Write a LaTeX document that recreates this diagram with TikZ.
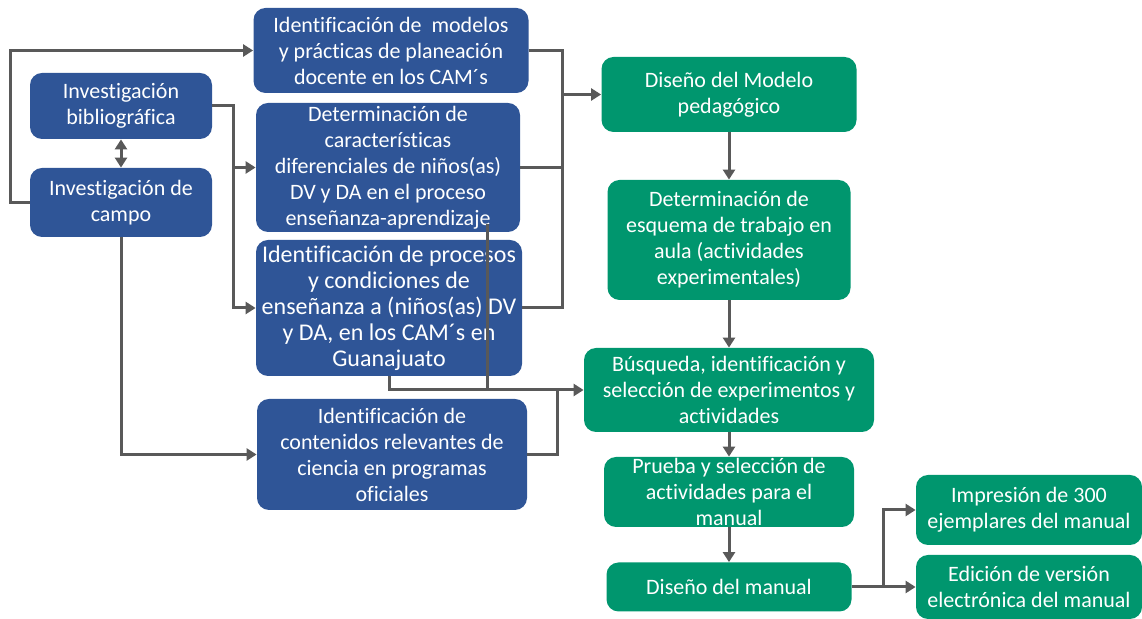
\documentclass[tikz,border=0pt]{standalone}
\usepackage{fontspec}
\setmainfont{Carlito}[Ligatures=CommonOff]
\usetikzlibrary{arrows.meta}
\definecolor{stageA}{HTML}{2F5597}
\definecolor{stageB}{HTML}{00966E}
\definecolor{linkline}{HTML}{595959}
\begin{document}
\begin{tikzpicture}[x=0.5pt,y=-0.5pt,>={Triangle[length=5pt,width=6pt]},font=\fontsize{11}{13}\selectfont,
  blk/.style={fill=#1,text=white,rounded corners=6pt,align=center,inner sep=0pt},
  link/.style={linkline,line width=1.5pt}]
\useasboundingbox (0,0) rectangle (1142,619);
\node[blk=stageA,minimum width=91pt,minimum height=33pt] (bib) at (121,106) {Investigación\\bibliográfica};
\node[blk=stageA,minimum width=91pt,minimum height=34.5pt] (campo) at (121,202.5) {Investigación de\\campo};
\node[blk=stageA,minimum width=137.5pt,minimum height=42.5pt] (mod) at (391,50.5) {Identificación de\ \ modelos\\y prácticas de planeación\\docente en los CAM´s};
\node[blk=stageA,minimum width=132pt,minimum height=64.5pt] (det) at (388,167.5) {Determinación de\\características\\diferenciales de niños(as)\\DV y DA en el proceso\\enseñanza-aprendizaje};
\node[blk=stageA,minimum width=133pt,minimum height=68pt,font=\fontsize{12}{13}\selectfont] (proc) at (389,308) {Identificación de procesos\\y condiciones de\\enseñanza a (niños(as) DV\\y DA, en los CAM´s en\\Guanajuato};
\node[blk=stageA,minimum width=135pt,minimum height=55.5pt] (cont) at (392,454.5) {Identificación de\\contenidos relevantes de\\ciencia en programas\\oficiales};
\node[blk=stageB,minimum width=127.5pt,minimum height=37.5pt] (dm) at (729,94.5) {Diseño del Modelo\\pedagógico};
\node[blk=stageB,minimum width=121.5pt,minimum height=60pt] (de) at (729,240) {Determinación de\\esquema de trabajo en\\aula (actividades\\experimentales)};
\node[blk=stageB,minimum width=145pt,minimum height=42pt] (bus) at (729,390) {Búsqueda, identificación y\\selección de experimentos y\\actividades};
\node[blk=stageB,minimum width=125pt,minimum height=35pt] (pru) at (729,492) {Prueba y selección de\\actividades para el\\manual};
\node[blk=stageB,minimum width=122.5pt,minimum height=24.5pt] (dman) at (729,587) {Diseño del manual};
\node[blk=stageB,minimum width=113pt,minimum height=35pt] (imp) at (1029,510) {Impresión de 300\\ejemplares del manual};
\node[blk=stageB,minimum width=113pt,minimum height=32pt] (ed) at (1029,587) {Edición de versión\\electrónica del manual};
\coordinate (jA) at (562,94.5);
\coordinate (jB) at (557,390);
\coordinate (jC) at (487,390);
\coordinate (jD) at (883,587);
\draw[link,->] (campo.west) -- ++(-19,0) |- (mod.west);
\draw[link,<->] (bib) -- (campo);
\draw[link,->] (bib.east) -- ++(21,0) |- (proc.west);
\draw[link,->] (bib.east) ++(21,0) |- (det.west);
\draw[link] (mod.east) -| (jA);
\draw[link] (det.east) -| (jA);
\draw[link] (proc.east) -| (jA);
\draw[link,->] (jA) -- (dm.west);
\draw[link,->] (campo.south) |- (cont.west);
\draw[link] ([yshift=4pt]jC |- det.south) -- (jC);
\draw[link] (proc.south) |- (jB);
\draw[link] (cont.east) -| (jB);
\draw[link,->] (jB) -- (bus.west);
\draw[link,->] (dm) -- (de);
\draw[link,->] (de) -- (bus);
\draw[link,->] (bus) -- (pru);
\draw[link,->] (pru) -- (dman);
\draw[link] (dman.east) -- (jD);
\draw[link,->] (jD) |- (imp.west);
\draw[link,->] (jD) -- (ed.west);
\end{tikzpicture}
\end{document}
